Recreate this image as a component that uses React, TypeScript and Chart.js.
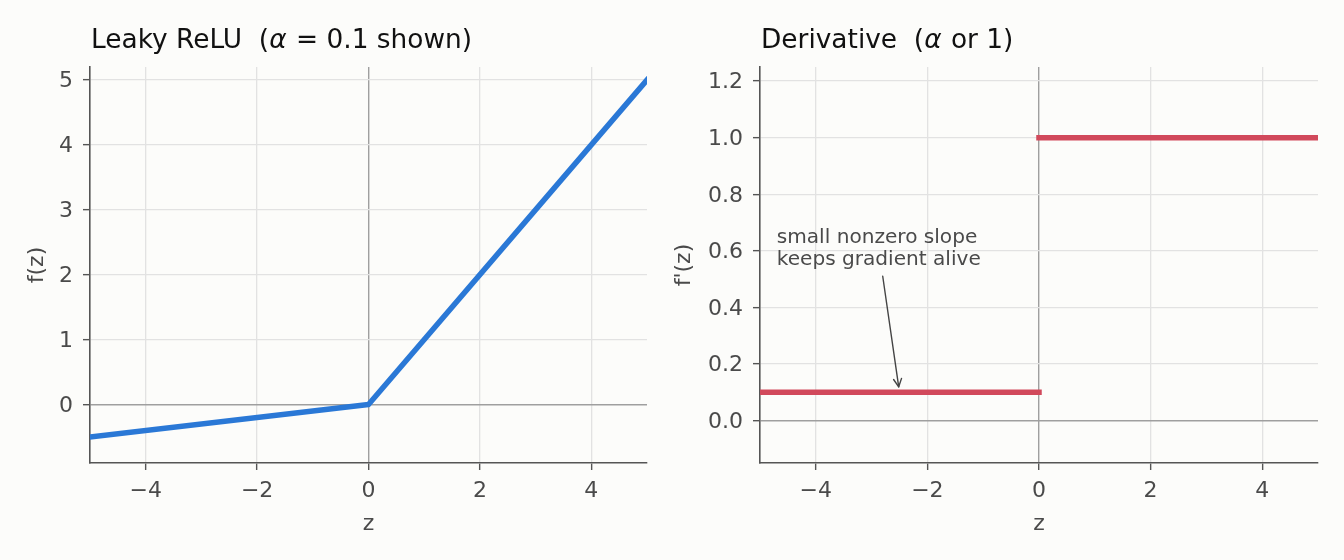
import React, { useEffect, useRef } from 'react';
import { Chart, registerables } from 'chart.js';

Chart.register(...registerables);

// ---- data ----
const zRange = [-5, 5];
const zTicks = [-4, -2, 0, 2, 4];

const leakyZ = [-5, 0, 5];
const leakyF = [-0.5, 0, 5];
const leakyRange = [-0.9, 5.2];
const leakyTicks = [0, 1, 2, 3, 4, 5];

const derivNegZ = [-5, 0];
const derivNegF = [0.1, 0.1];
const derivPosZ = [0, 5];
const derivPosF = [1, 1];
const derivRange = [-0.15, 1.25];
const derivTicks = [0, 0.2, 0.4, 0.6, 0.8, 1.0, 1.2];

const annotationLines = ['small nonzero slope', 'keeps gradient alive'];
const annotationTextAt = [-4.7, 0.55];
const annotationTipAt = [-2.5, 0.1];

const leftTitle = [
  { t: 'Leaky ReLU  (', it: false },
  { t: 'α', it: true },
  { t: ' = 0.1 shown)', it: false },
];
const rightTitle = [
  { t: 'Derivative  (', it: false },
  { t: 'α', it: true },
  { t: ' or 1)', it: false },
];

const FONT = '"DejaVu Sans", sans-serif';
const BLUE = '#2a78d6';
const RED = '#d1495b';
const TEXT = '#4a4a4a';
const SPINE = '#555555';
const GRID = '#e2e2e2';
const ZERO = '#9f9f9f';

const fmtZ = (v: number) => (v < 0 ? '\u2212' + Math.abs(v) : String(v));

type Seg = { t: string; it: boolean };

function makePlugin(title: Seg[], yLabel: string, yLabelX: number, annotate: boolean) {
  return {
    id: 'decor',
    afterDraw(chart: any) {
      const ctx = chart.ctx as CanvasRenderingContext2D;
      const area = chart.chartArea;
      const xs = chart.scales.x;
      const ys = chart.scales.y;
      ctx.save();
      // title
      let x = area.left + 1;
      ctx.fillStyle = '#111111';
      ctx.textBaseline = 'alphabetic';
      ctx.textAlign = 'left';
      for (const s of title) {
        ctx.font = `${s.it ? 'italic ' : ''}26.4px ${FONT}`;
        ctx.fillText(s.t, x, 47.5);
        x += ctx.measureText(s.t).width + (s.it ? 1 : 0);
      }
      // axis labels
      ctx.fillStyle = TEXT;
      ctx.font = `22px ${FONT}`;
      ctx.textAlign = 'center';
      ctx.fillText('z', (area.left + area.right) / 2, 529.5);
      ctx.save();
      ctx.translate(yLabelX, (area.top + area.bottom) / 2);
      ctx.rotate(-Math.PI / 2);
      ctx.textBaseline = 'middle';
      ctx.fillText(yLabel, 0, 0);
      ctx.restore();

      if (annotate) {
        const fs = 20.1;
        ctx.font = `${fs}px ${FONT}`;
        ctx.fillStyle = TEXT;
        ctx.textAlign = 'left';
        ctx.textBaseline = 'alphabetic';
        const lx = xs.getPixelForValue(annotationTextAt[0]);
        const b2 = ys.getPixelForValue(annotationTextAt[1]);
        const lh = 22;
        const b1 = b2 - lh;
        ctx.fillText(annotationLines[0], lx, b1);
        ctx.fillText(annotationLines[1], lx, b2);
        const w = Math.max(...annotationLines.map((l) => ctx.measureText(l).width));
        const top = b1 - 0.76 * fs;
        const bottom = b2 + 0.24 * fs;
        const cx = lx + w / 2;
        const cy = (top + bottom) / 2;
        const tx = xs.getPixelForValue(annotationTipAt[0]);
        const ty = ys.getPixelForValue(annotationTipAt[1]);
        const t = (bottom - cy) / (ty - cy);
        const px = cx + t * (tx - cx);
        const py = cy + t * (ty - cy);
        const dx = tx - px;
        const dy = ty - py;
        const len = Math.hypot(dx, dy);
        const ux = dx / len;
        const uy = dy / len;
        const sx = px + 6.5 * ux;
        const sy = py + 6.5 * uy;
        const ex = tx - 5.5 * ux;
        const ey = ty - 5.5 * uy;
        ctx.strokeStyle = '#444444';
        ctx.lineWidth = 1.4;
        ctx.lineCap = 'round';
        ctx.lineJoin = 'round';
        ctx.beginPath();
        ctx.moveTo(sx, sy);
        ctx.lineTo(ex, ey);
        ctx.stroke();
        const hl = 8;
        const hw = 4;
        const bx = ex - hl * ux;
        const by = ey - hl * uy;
        ctx.beginPath();
        ctx.moveTo(bx - hw * uy, by + hw * ux);
        ctx.lineTo(ex, ey);
        ctx.lineTo(bx + hw * uy, by - hw * ux);
        ctx.stroke();
      }
      ctx.restore();
    },
  };
}

function scaleOpts(
  range: number[],
  ticks: number[],
  fmt: (v: number) => string,
  isX: boolean,
  fixed: number
) {
  return {
    type: 'linear',
    min: range[0],
    max: range[1],
    afterBuildTicks: (s: any) => {
      s.ticks = ticks.map((v) => ({ value: v }));
    },
    afterFit: (s: any) => {
      if (isX) s.height = fixed;
      else s.width = fixed;
    },
    ticks: {
      autoSkip: false,
      maxRotation: 0,
      minRotation: 0,
      padding: isX ? 8 : 10,
      labelOffset: isX ? 0 : 1.5,
      color: TEXT,
      font: { family: FONT, size: 22 },
      callback: (v: any) => fmt(Number(v)),
    },
    grid: {
      color: (c: any) => (c.tick && Math.abs(c.tick.value) < 1e-9 ? ZERO : GRID),
      lineWidth: (c: any) => (c.tick && Math.abs(c.tick.value) < 1e-9 ? 1.4 : 1.3),
      tickLength: 7,
      tickColor: SPINE,
      tickWidth: 1.4,
      drawTicks: true,
    },
    border: { display: true, color: SPINE, width: 1.6 },
  };
}

function pts(xs: number[], ys: number[]) {
  return xs.map((x, i) => ({ x, y: ys[i] }));
}

function lineDs(data: any[], color: string) {
  return {
    data,
    borderColor: color,
    backgroundColor: color,
    borderWidth: 5.5,
    pointRadius: 0,
    tension: 0,
    fill: false,
    clip: 0,
    borderCapStyle: 'square',
    borderJoinStyle: 'round',
  };
}

function baseOptions(padRight: number, yWidth: number, yRange: number[], yTicks: number[], yFmt: (v: number) => string) {
  return {
    responsive: false,
    maintainAspectRatio: false,
    animation: false,
    devicePixelRatio: 1,
    events: [],
    layout: { padding: { left: 0, top: 67, right: padRight, bottom: 0 } },
    plugins: { legend: { display: false }, tooltip: { enabled: false }, title: { display: false } },
    scales: {
      x: scaleOpts(zRange, zTicks, fmtZ, true, 97),
      y: scaleOpts(yRange, yTicks, yFmt, false, yWidth),
    },
  };
}

export default function App() {
  const leftRef = useRef<HTMLCanvasElement>(null);
  const rightRef = useRef<HTMLCanvasElement>(null);

  useEffect(() => {
    document.body.style.margin = '0';
    const left = new Chart(leftRef.current as HTMLCanvasElement, {
      type: 'line',
      data: { datasets: [lineDs(pts(leakyZ, leakyF), BLUE)] as any },
      options: baseOptions(25, 90, leakyRange, leakyTicks, (v) => String(v)) as any,
      plugins: [makePlugin(leftTitle, 'f(z)', 37.5, false)],
    });
    const right = new Chart(rightRef.current as HTMLCanvasElement, {
      type: 'line',
      data: {
        datasets: [lineDs(pts(derivNegZ, derivNegF), RED), lineDs(pts(derivPosZ, derivPosF), RED)] as any,
      },
      options: baseOptions(26, 88, derivRange, derivTicks, (v) => v.toFixed(1)) as any,
      plugins: [makePlugin(rightTitle, "f'(z)", 684 - 672, true)],
    });
    return () => {
      left.destroy();
      right.destroy();
    };
  }, []);

  return (
    <div
      style={{
        position: 'fixed',
        left: 0,
        top: 0,
        width: 1344,
        height: 560,
        background: '#fcfcfa',
      }}
    >
      <canvas ref={leftRef} width={672} height={560} style={{ position: 'absolute', left: 0, top: 0 }} />
      <canvas ref={rightRef} width={672} height={560} style={{ position: 'absolute', left: 672, top: 0 }} />
    </div>
  );
}
